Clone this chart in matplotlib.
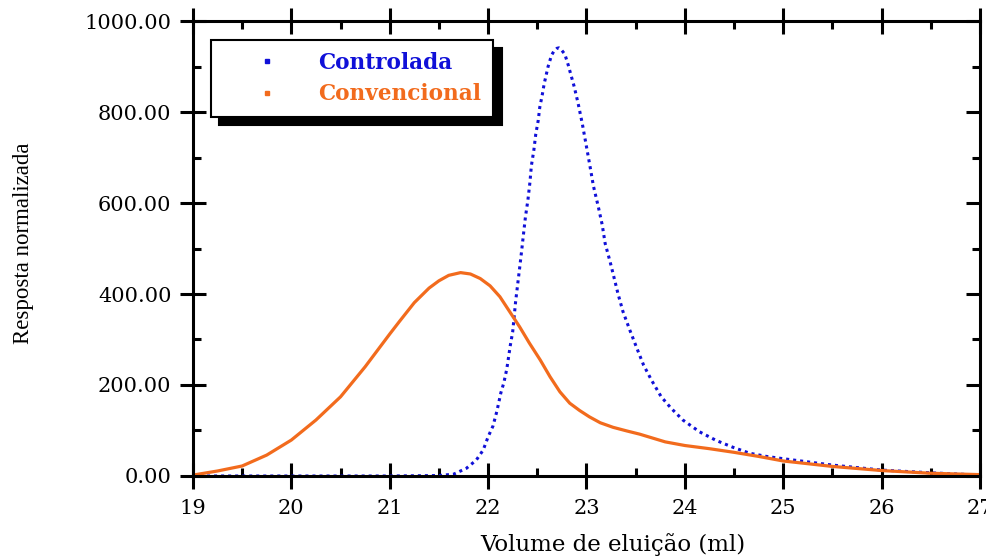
import numpy as np
import matplotlib
matplotlib.use('Agg')
import matplotlib.pyplot as plt
from matplotlib.lines import Line2D
from matplotlib.ticker import MultipleLocator, FormatStrFormatter


# volume de eluicao (ml) e resposta normalizada
x_controlada = [19.0, 20.0, 21.0, 21.5, 21.65, 21.78, 21.88, 21.95, 22.0, 22.05,
                22.09, 22.13, 22.16, 22.19, 22.225, 22.25, 22.28, 22.3, 22.32, 22.34,
                22.36, 22.38, 22.405, 22.425, 22.44, 22.465, 22.485, 22.51, 22.525, 22.55,
                22.57, 22.59, 22.61, 22.645, 22.67, 22.7, 22.72, 22.74, 22.78, 22.815,
                22.83, 22.875, 22.915, 22.957, 22.994, 23.034, 23.07, 23.12, 23.16, 23.19,
                23.24, 23.27, 23.32, 23.37, 23.44, 23.51, 23.58, 23.66, 23.76, 23.86,
                23.98, 24.15, 24.32, 24.49, 24.66, 24.83, 25.0, 25.5, 26.0, 26.5, 27.0]
y_controlada = [0, 0, 0, 1, 4, 17, 35, 57, 86, 110,
                143, 183, 205, 235, 286, 317, 384, 420, 456, 493,
                532, 570, 607, 645, 682, 716, 752, 782, 810, 837,
                862, 881, 900, 925, 934, 940, 941, 938, 927, 903,
                891, 856, 819, 775, 731, 683, 638, 592, 552, 511,
                471, 445, 401, 362, 321, 282, 244, 211, 174, 149,
                123, 97, 78, 63, 50, 43, 38, 24, 13, 7, 2]

x_convencional = [19.0, 19.25, 19.5, 19.75, 20.0, 20.25, 20.5, 20.75, 21.0, 21.1,
                  21.25, 21.4, 21.5, 21.6, 21.72, 21.82, 21.92, 22.02, 22.12, 22.22,
                  22.32, 22.42, 22.53, 22.63, 22.73, 22.83, 22.93, 23.03, 23.14, 23.27,
                  23.41, 23.54, 23.8, 24.0, 24.25, 24.5, 24.75, 25.0, 25.5, 26.0,
                  26.5, 27.0]
y_convencional = [2, 11, 22, 46, 79, 123, 174, 240, 312, 340,
                  381, 413, 429, 441, 447, 444, 434, 418, 394, 361,
                  328, 292, 255, 218, 185, 160, 144, 130, 117, 107,
                  99, 92, 75, 67, 60, 52, 43, 33, 21, 12,
                  6, 3]

labels = ['Controlada', 'Convencional']
cor_azul = '#1010D8'
cor_laranja = '#F26B1D'


fig = plt.figure(figsize=(9.86, 5.56), dpi=100)
ax = fig.add_axes([0.1957, 0.1439, 0.7982, 0.8183])

ax.plot(x_controlada, y_controlada, color=cor_azul, lw=2.2,
        linestyle=(0, (1, 1.3)), dash_capstyle='butt')
ax.plot(x_convencional, y_convencional, color=cor_laranja, lw=2.3)

ax.set_xlim(19, 27)
ax.set_ylim(0, 1000)

ax.xaxis.set_major_locator(MultipleLocator(1))
ax.xaxis.set_minor_locator(MultipleLocator(0.5))
ax.yaxis.set_major_locator(MultipleLocator(200))
ax.yaxis.set_minor_locator(MultipleLocator(100))
ax.yaxis.set_major_formatter(FormatStrFormatter('%.2f'))

for s in ax.spines.values():
    s.set_linewidth(2.2)

ax.tick_params(which='major', direction='inout', length=19, width=2.2,
               top=True, right=False, labelsize=15)
ax.tick_params(which='minor', direction='in', length=6, width=2.2,
               top=True, right=True)
ax.tick_params(axis='x', which='major', pad=7)
ax.tick_params(axis='y', which='major', pad=6)
# ticks do lado direito so para dentro
for t in ax.yaxis.get_major_ticks():
    t.tick2line.set_visible(True)
    t.tick2line.set_markersize(10)
    t.tick2line.set_marker(0)

for lab in ax.get_xticklabels() + ax.get_yticklabels():
    lab.set_family('DejaVu Serif')

ax.set_xlabel('Volume de eluição (ml)', family='DejaVu Serif', fontsize=16.5)
ax.xaxis.set_label_coords(0.534, -0.125)
ax.set_ylabel('Resposta normalizada', family='Liberation Serif', fontsize=16.5)
ax.yaxis.set_label_coords(-0.202, 0.512)

handles = [Line2D([], [], color=cor_azul, marker='s', markersize=2.5, linestyle='none'),
           Line2D([], [], color=cor_laranja, marker='s', markersize=2.5, linestyle='none')]
leg = ax.legend(handles, labels, loc='upper left', bbox_to_anchor=(0.023, 0.958),
                borderaxespad=0, fancybox=False, edgecolor='black', framealpha=1,
                prop={'family': 'DejaVu Serif', 'weight': 'bold', 'size': 15.6},
                labelcolor=[cor_azul, cor_laranja], handlelength=4.1, handletextpad=0.3,
                borderpad=0.55, labelspacing=0.42,
                shadow={'ox': 6, 'oy': -6, 'color': 'black', 'alpha': 1})
leg.get_frame().set_linewidth(1.5)

fig.savefig('out.png', dpi=100)
